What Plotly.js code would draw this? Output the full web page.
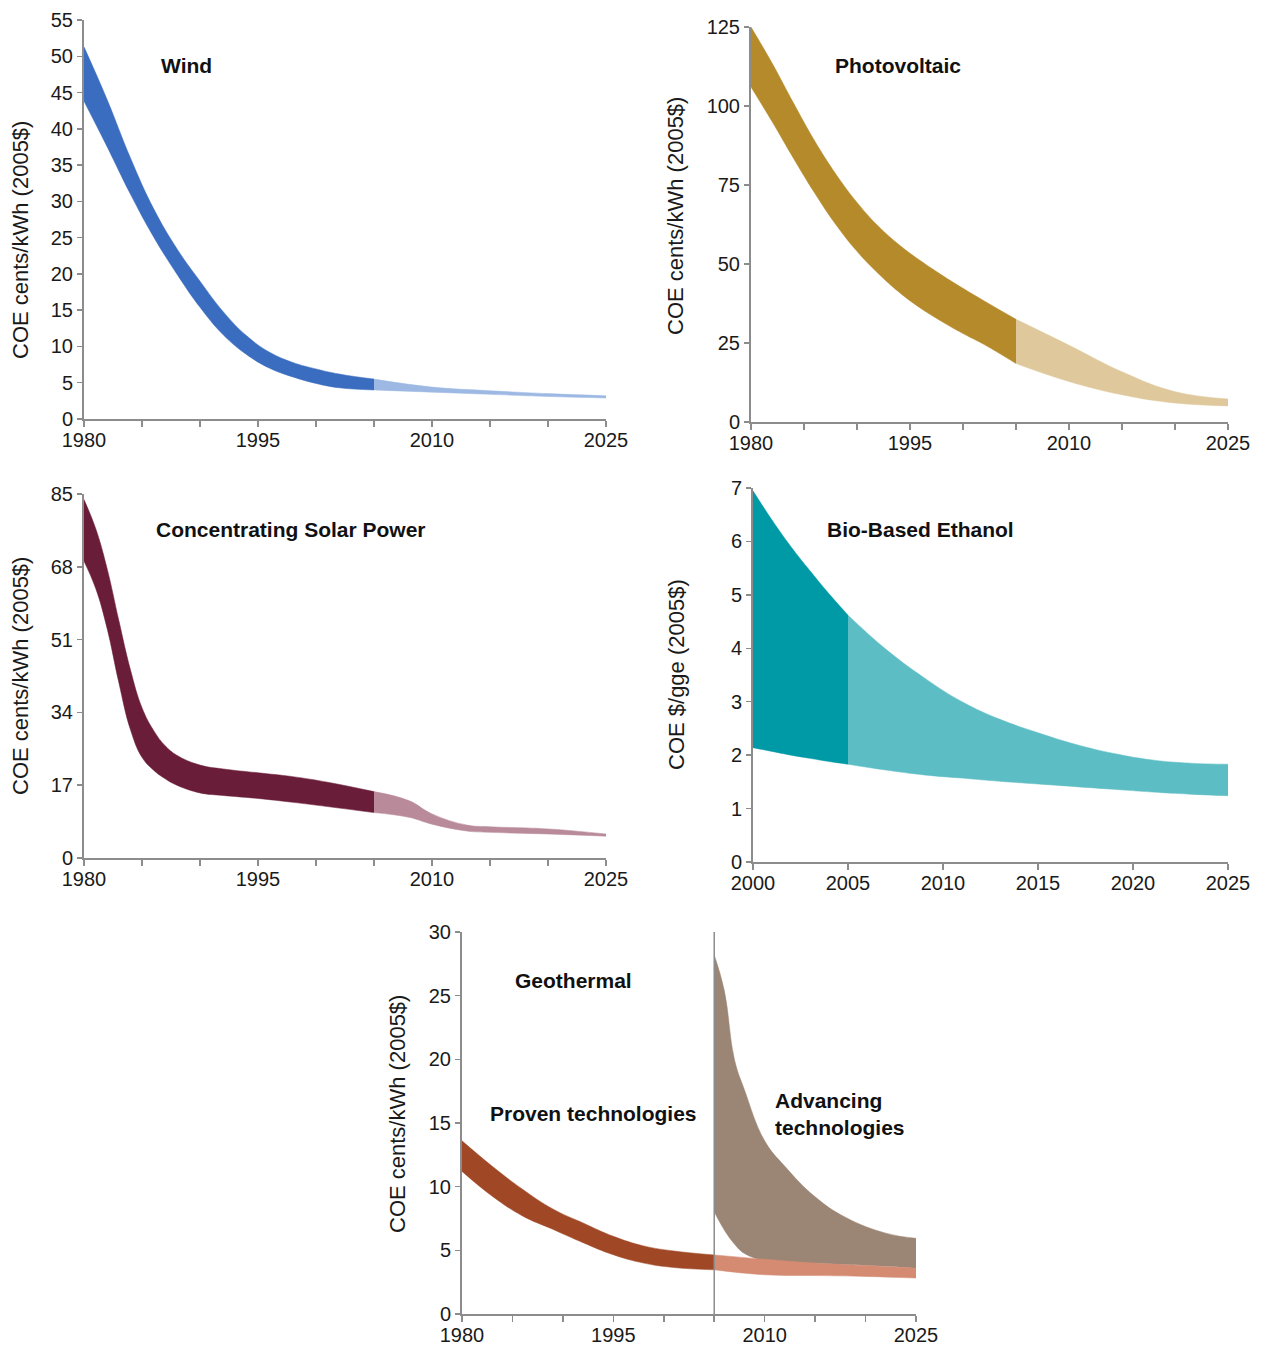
<!DOCTYPE html>
<html>
<head>
<meta charset="utf-8">
<script src="https://cdn.plot.ly/plotly-3.0.1.min.js"></script>
<style>html,body{margin:0;padding:0;background:#fff;}#chart{width:1262px;height:1346px;}</style>
</head>
<body>
<div id="chart"></div>
<script>
// ---------------- DATA ----------------
// Wind
const windYearsHist = [1980,1982,1984,1986,1988,1990,1992,1994,1996,1998,2000,2002,2005];
const windUpperHist = [51.3,44.0,36.0,29.0,23.5,19.0,14.8,11.5,9.2,7.8,6.9,6.2,5.5];
const windLowerHist = [43.8,37.5,31.0,25.1,20.0,15.4,11.6,8.9,7.0,5.8,4.9,4.3,4.0];
const windYearsProj = [2005,2010,2015,2020,2025];
const windUpperProj = [5.5,4.4,3.9,3.5,3.2];
const windLowerProj = [4.0,3.7,3.4,3.1,2.9];

// Photovoltaic
const pvYearsHist = [1980,1982,1984,1986,1988,1990,1992,1994,1996,1998,2000,2002,2005];
const pvUpperHist = [125,113.5,101,89,78.5,69.5,62,56,51,46.5,42.3,38.3,32.5];
const pvLowerHist = [106,95,83.5,72.5,62.5,54,47,41,36,31.8,28,24.5,18.5];
const pvYearsProj = [2005,2010,2015,2020,2025];
const pvUpperProj = [32.5,24.3,15.9,9.6,7.3];
const pvLowerProj = [18.5,12.8,8.6,6.0,5.1];

// Concentrating Solar Power
const cspYearsHist = [1980,1981,1982,1983,1984,1985,1986,1987,1988,1990,1992,1995,1998,2001,2005];
const cspUpperHist = [83.7,77.0,67.5,55.5,44.0,35.1,29.8,26.2,24.0,21.7,20.8,19.9,19.0,17.7,15.5];
const cspLowerHist = [69.3,63.0,53.5,41.0,30.0,23.5,20.5,18.5,17.0,15.2,14.6,13.9,13.0,12.0,10.6];
const cspYearsProj = [2005,2008,2010,2013,2015,2020,2025];
const cspUpperProj = [15.5,13.4,10.3,7.7,7.3,6.8,5.6];
const cspLowerProj = [10.6,9.5,7.9,6.3,6.0,5.6,5.1];

// Bio-Based Ethanol
const ethYearsHist = [2000,2001,2002,2003,2004,2005];
const ethUpperHist = [6.95,6.4,5.9,5.45,5.02,4.62];
const ethLowerHist = [2.14,2.07,2.0,1.94,1.88,1.83];
const ethYearsProj = [2005,2007,2009,2011,2013,2015,2017,2019,2021,2023,2025];
const ethUpperProj = [4.62,3.98,3.45,3.0,2.67,2.42,2.2,2.03,1.91,1.85,1.83];
const ethLowerProj = [1.83,1.72,1.63,1.57,1.51,1.46,1.41,1.36,1.31,1.27,1.24];

// Geothermal
const geoYearsHist = [1980,1983,1986,1989,1992,1995,1998,2001,2005];
const geoUpperHist = [13.6,11.6,9.8,8.25,7.15,6.1,5.35,4.95,4.64];
const geoLowerHist = [11.2,9.25,7.7,6.65,5.6,4.65,4.0,3.65,3.47];
const geoYearsProj = [2005,2010,2015,2020,2025];
const geoUpperProj = [4.64,4.3,4.0,3.8,3.6];
const geoLowerProj = [3.47,3.08,3.02,2.95,2.82];
const geoAdvYears = [2005,2006,2007,2008,2010,2012,2015,2018,2022,2025];
const geoAdvUpper = [28.2,25.4,20.0,17.6,13.6,11.6,9.2,7.6,6.35,5.94];
const geoAdvLower = [8.03,6.6,5.5,4.75,4.2,4.05,3.99,3.88,3.75,3.6];

// Ticks
const yearTicks80 = [1980,1985,1990,1995,2000,2005,2010,2015,2020,2025];
const yearLabels80 = ['1980','','','1995','','','2010','','','2025'];
const yearTicks00 = [2000,2005,2010,2015,2020,2025];
const yearLabels00 = ['2000','2005','2010','2015','2020','2025'];
const windTicks = [0,5,10,15,20,25,30,35,40,45,50,55];
const pvTicks = [0,25,50,75,100,125];
const cspTicks = [0,17,34,51,68,85];
const ethTicks = [0,1,2,3,4,5,6,7];
const geoTicks = [0,5,10,15,20,25,30];

// ---------------- LAYOUT HELPERS ----------------
const W = 1262, H = 1346;
const px = v => v / W;
const py = v => 1 - v / H;
const FONT = 'Liberation Sans, Arial, Helvetica, sans-serif';
const AX = '#8c8c8c';

function band(xs, lo, hi, color, n) {
  const xa = 'x' + (n === 1 ? '' : n), ya = 'y' + (n === 1 ? '' : n);
  return [
    {x: xs, y: lo, xaxis: xa, yaxis: ya, type: 'scatter', mode: 'lines',
     line: {width: 0.5, color: color, shape: 'spline', smoothing: 1.2}, hoverinfo: 'skip', showlegend: false},
    {x: xs, y: hi, xaxis: xa, yaxis: ya, type: 'scatter', mode: 'lines', fill: 'tonexty', fillcolor: color,
     line: {width: 0.5, color: color, shape: 'spline', smoothing: 1.2}, hoverinfo: 'skip', showlegend: false}
  ];
}

const traces = [].concat(
  band(windYearsHist, windLowerHist, windUpperHist, '#3a6cbf', 1),
  band(windYearsProj, windLowerProj, windUpperProj, '#9db8e3', 1),
  band(pvYearsHist, pvLowerHist, pvUpperHist, '#b58a2b', 2),
  band(pvYearsProj, pvLowerProj, pvUpperProj, '#dfc89b', 2),
  band(cspYearsHist, cspLowerHist, cspUpperHist, '#6a1d39', 3),
  band(cspYearsProj, cspLowerProj, cspUpperProj, '#b98b9a', 3),
  band(ethYearsHist, ethLowerHist, ethUpperHist, '#0099a6', 4),
  band(ethYearsProj, ethLowerProj, ethUpperProj, '#5dbdc4', 4),
  band(geoAdvYears, geoAdvLower, geoAdvUpper, '#9b8574', 5),
  band(geoYearsHist, geoLowerHist, geoUpperHist, '#a04826', 5),
  band(geoYearsProj, geoLowerProj, geoUpperProj, '#d58a72', 5)
);

function xAxis(l, r, anchor, range, tv, tt) {
  return {domain: [px(l), px(r)], anchor: anchor, range: range, tickvals: tv, ticktext: tt,
    showline: true, linecolor: AX, linewidth: 2, ticks: 'outside', ticklen: 6, tickwidth: 1.5, tickcolor: AX,
    ticklabelstandoff: -4,
    showgrid: false, zeroline: false, fixedrange: true,
    tickfont: {family: FONT, size: 20, color: '#1a1a1a'}};
}
function yAxis(t, b, anchor, range, tv) {
  return {domain: [py(b), py(t)], anchor: anchor, range: range, tickvals: tv,
    showline: true, linecolor: AX, linewidth: 2, ticks: 'outside', ticklen: 5, tickwidth: 1.5, tickcolor: AX,
    showgrid: false, zeroline: false, fixedrange: true,
    tickfont: {family: FONT, size: 20, color: '#1a1a1a'}};
}

function label(text, x, y, opts) {
  return Object.assign({text: text, xref: 'paper', yref: 'paper', x: px(x), y: py(y),
    xanchor: 'center', yanchor: 'middle', showarrow: false,
    font: {family: FONT, size: 21, color: '#111'}}, opts || {});
}
function ytitle(text, x, y) {
  return label(text, x, y, {textangle: -90, font: {family: FONT, size: 22, color: '#1a1a1a'}});
}

const layout = {
  width: W, height: H, margin: {l: 0, r: 0, t: 0, b: 0},
  paper_bgcolor: '#fff', plot_bgcolor: 'rgba(0,0,0,0)', showlegend: false,
  font: {family: FONT},
  xaxis:  xAxis(84, 606, 'y',  [1980, 2025], yearTicks80, yearLabels80),
  yaxis:  yAxis(20, 419, 'x',  [0, 55], windTicks),
  xaxis2: xAxis(751, 1228, 'y2', [1980, 2025], yearTicks80, yearLabels80),
  yaxis2: yAxis(27, 422, 'x2', [0, 125], pvTicks),
  xaxis3: xAxis(84, 606, 'y3', [1980, 2025], yearTicks80, yearLabels80),
  yaxis3: yAxis(494, 858, 'x3', [0, 85], cspTicks),
  xaxis4: xAxis(753, 1228, 'y4', [2000, 2025], yearTicks00, yearLabels00),
  yaxis4: yAxis(488, 862, 'x4', [0, 7], ethTicks),
  xaxis5: xAxis(462, 916, 'y5', [1980, 2025], yearTicks80, yearLabels80),
  yaxis5: yAxis(932, 1314, 'x5', [0, 30], geoTicks),
  shapes: [
    {type: 'line', xref: 'x5', yref: 'y5 domain', x0: 2005, x1: 2005, y0: 0, y1: 1,
     line: {color: AX, width: 1.5}}
  ],
  annotations: [
    label('<b>Wind</b>', 186, 65),
    label('<b>Photovoltaic</b>', 898, 65),
    label('<b>Concentrating Solar Power</b>', 291, 530),
    label('<b>Bio-Based Ethanol</b>', 920, 530),
    label('<b>Geothermal</b>', 573, 980),
    label('<b>Proven technologies</b>', 593, 1113),
    label('<b>Advancing</b><br><b>technologies</b>', 773, 1114, {xanchor: 'left', align: 'left'}),
    ytitle('COE cents/kWh (2005$)', 20, 240),
    ytitle('COE cents/kWh (2005$)', 676, 216),
    ytitle('COE cents/kWh (2005$)', 20, 676),
    ytitle('COE $/gge (2005$)', 676, 675),
    ytitle('COE cents/kWh (2005$)', 397, 1114)
  ]
};

Plotly.newPlot('chart', traces, layout, {staticPlot: true, displayModeBar: false});
</script>
</body>
</html>
